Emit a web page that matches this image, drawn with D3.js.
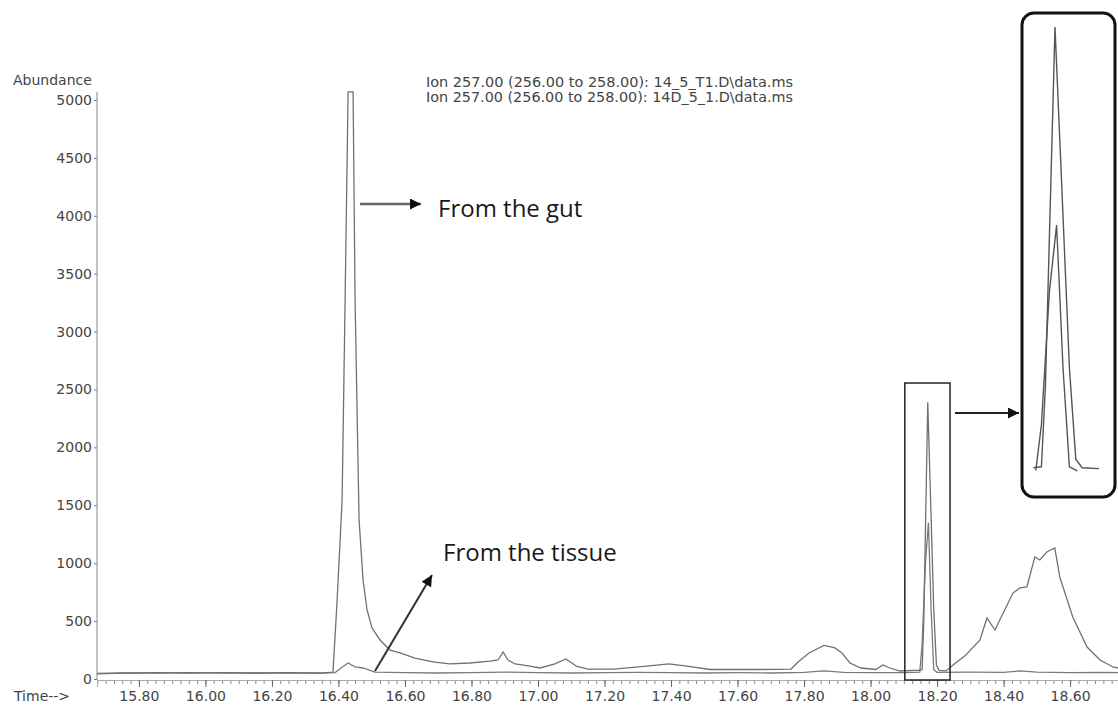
<!DOCTYPE html>
<html>
<head>
<meta charset="utf-8">
<script src="https://cdn.jsdelivr.net/npm/d3@7"></script>
<style>
  body { margin: 0; background: #fff; }
  svg { display: block; }
</style>
</head>
<body>
<div id="chart"></div>
<script>
// ion 257 chromatograms
const gutTime = [15.674, 15.75, 15.85, 15.95, 16.05, 16.15, 16.25, 16.35, 16.3836, 16.396, 16.411, 16.420, 16.429, 16.444, 16.450,
  16.462, 16.474, 16.486, 16.501, 16.525, 16.555, 16.585, 16.630, 16.684, 16.735, 16.795, 16.856, 16.88, 16.895, 16.91,
  16.931, 16.976, 17.006, 17.051, 17.084, 17.117, 17.150, 17.228, 17.328, 17.393, 17.448, 17.517, 17.670, 17.761, 17.782,
  17.815, 17.860, 17.893, 17.914, 17.938, 17.971, 18.016, 18.037, 18.058, 18.088, 18.13, 18.145, 18.155, 18.160, 18.172,
  18.180, 18.190, 18.198, 18.206, 18.227, 18.248, 18.284, 18.329, 18.350, 18.374, 18.428, 18.449, 18.470, 18.494, 18.509,
  18.530, 18.554, 18.569, 18.608, 18.651, 18.690, 18.729, 18.744];
const gutAbundance = [45, 50, 55, 52, 55, 52, 55, 50, 60, 680, 1545, 3270, 5070, 5070, 3270,
  1373, 855, 596, 440, 337, 250, 225, 181, 147, 130, 138, 155, 164, 233, 164,
  130, 112, 95, 130, 173, 108, 86, 86, 112, 130, 112, 82, 82, 86, 147,
  225, 290, 268, 225, 138, 95, 82, 121, 95, 69, 75, 75, 80, 500, 2390,
  1600, 600, 120, 75, 70, 120, 200, 337, 527, 423, 742, 786, 795, 1054, 1028,
  1097, 1131, 880, 535, 276, 164, 104, 95];

const tissueTime = [15.674, 15.75, 15.85, 15.95, 16.05, 16.15, 16.25, 16.35, 16.39, 16.41, 16.429, 16.45, 16.474, 16.51,
  16.6, 16.7, 16.8, 16.9, 17.0, 17.1, 17.2, 17.3, 17.4, 17.5, 17.6, 17.7, 17.8, 17.86, 17.92, 18.0, 18.1, 18.148,
  18.155, 18.165, 18.174, 18.182, 18.19, 18.2, 18.3, 18.4, 18.45, 18.5, 18.6, 18.7, 18.744];
const tissueAbundance = [48, 52, 50, 55, 50, 52, 50, 52, 55, 100, 138, 105, 95, 60,
  55, 52, 55, 60, 55, 52, 55, 58, 55, 52, 55, 52, 58, 70, 58, 55, 55, 60,
  300, 1000, 1350, 600, 80, 58, 60, 58, 70, 60, 55, 58, 55];

const yTicks = [0, 500, 1000, 1500, 2000, 2500, 3000, 3500, 4000, 4500, 5000];
const xTicks = [15.8, 16.0, 16.2, 16.4, 16.6, 16.8, 17.0, 17.2, 17.4, 17.6, 17.8, 18.0, 18.2, 18.4, 18.6];
const minorStep = 0.025;

const headerLines = [
  "Ion 257.00 (256.00 to 258.00): 14_5_T1.D\\data.ms",
  "Ion 257.00 (256.00 to 258.00): 14D_5_1.D\\data.ms"
];

const width = 1118, height = 707;
const margin = { top: 100, right: 0, bottom: 28, left: 97 };
const axisFont = "DejaVu Sans, Verdana, sans-serif";
const noteFont = "Open Sans, Lato, sans-serif";

const gut = gutTime.map((t, i) => ({ t: t, v: gutAbundance[i] }));
const tissue = tissueTime.map((t, i) => ({ t: t, v: tissueAbundance[i] }));

const x = d3.scaleLinear().domain([15.674, 18.744]).range([margin.left, width - margin.right]);
const y = d3.scaleLinear().domain([0, 5000]).range([height - margin.bottom, margin.top]);

const svg = d3.select("#chart").append("svg")
    .attr("width", width)
    .attr("height", height)
    .attr("viewBox", [0, 0, width, height]);

const defs = svg.append("defs");
defs.append("marker")
    .attr("id", "head")
    .attr("markerUnits", "userSpaceOnUse")
    .attr("viewBox", "0 0 10 10")
    .attr("refX", 10).attr("refY", 5)
    .attr("markerWidth", 13).attr("markerHeight", 11)
    .attr("orient", "auto")
  .append("path")
    .attr("d", "M0,0L10,5L0,10z")
    .attr("fill", "#111");

// axes
const yAxis = g => g
    .attr("transform", `translate(${margin.left},0)`)
    .call(d3.axisLeft(y).tickValues(yTicks).tickSize(3).tickPadding(2).tickFormat(d3.format("d")))
    .call(g => g.select(".domain").remove())
    .call(g => g.selectAll("text").attr("font-family", axisFont).attr("font-size", 14).attr("fill", "#444"))
    .call(g => g.selectAll("line").attr("stroke", "#777"));

svg.append("g").call(yAxis);
svg.append("line")
    .attr("x1", margin.left).attr("x2", margin.left)
    .attr("y1", y(5070)).attr("y2", y(0) + 1)
    .attr("stroke", "#888").attr("stroke-width", 1);

const axisY = y(0) + 1;
const minorTicks = d3.range(Math.ceil(15.674 / minorStep) * minorStep, 18.744, minorStep);

svg.append("g")
    .attr("transform", `translate(0,${axisY})`)
    .call(d3.axisBottom(x).tickValues(minorTicks).tickSize(4).tickFormat(""))
    .call(g => g.select(".domain").remove())
    .call(g => g.selectAll("line").attr("stroke", "#888"));

svg.append("g")
    .attr("transform", `translate(0,${axisY})`)
    .call(d3.axisBottom(x).tickValues(xTicks).tickSize(7).tickPadding(4).tickFormat(d3.format(".2f")))
    .call(g => g.select(".domain").attr("stroke", "#aaa"))
    .call(g => g.selectAll("line").attr("stroke", "#666"))
    .call(g => g.selectAll("text").attr("font-family", axisFont).attr("font-size", 14).attr("fill", "#444"));

svg.append("text")
    .attr("x", 13).attr("y", 85)
    .attr("font-family", axisFont).attr("font-size", 14).attr("fill", "#444")
    .text("Abundance");

svg.append("text")
    .attr("x", 14).attr("y", 701)
    .attr("font-family", axisFont).attr("font-size", 14).attr("fill", "#444")
    .text("Time-->");

svg.selectAll(".header")
    .data(headerLines)
    .join("text")
    .attr("class", "header")
    .attr("x", 426)
    .attr("y", (d, i) => 87 + i * 15)
    .attr("font-family", axisFont).attr("font-size", 14).attr("fill", "#444")
    .attr("textLength", 367)
    .attr("lengthAdjust", "spacingAndGlyphs")
    .text(d => d);

// traces
const line = d3.line().x(d => x(d.t)).y(d => y(d.v));

svg.append("path")
    .datum(tissue)
    .attr("d", line)
    .attr("fill", "none")
    .attr("stroke", "#7a7a7a")
    .attr("stroke-width", 1.3);

svg.append("path")
    .datum(gut)
    .attr("d", line)
    .attr("fill", "none")
    .attr("stroke", "#707070")
    .attr("stroke-width", 1.3);

// box round the 18.17 peak
svg.append("rect")
    .attr("x", x(18.103))
    .attr("y", y(2556))
    .attr("width", x(18.239) - x(18.103))
    .attr("height", axisY - y(2556))
    .attr("fill", "none")
    .attr("stroke", "#222")
    .attr("stroke-width", 1.5);

// inset, zoomed peak
const inset = { x: 1022, y: 13, w: 93, h: 484 };
const xi = d3.scaleLinear().domain([18.13, 18.23]).range([1021.4, 1101.4]);
const yi = d3.scaleLinear().domain([0, 2390]).range([482, 27]);

defs.append("clipPath").attr("id", "insetClip")
  .append("rect")
    .attr("x", inset.x).attr("y", inset.y)
    .attr("width", inset.w).attr("height", inset.h)
    .attr("rx", 12);

const lineInset = d3.line().x(d => xi(d.t)).y(d => yi(d.v));
const gIn = svg.append("g").attr("clip-path", "url(#insetClip)");

gIn.append("path")
    .datum(tissue.filter(d => d.t >= 18.14 && d.t <= 18.2))
    .attr("d", lineInset)
    .attr("fill", "none")
    .attr("stroke", "#555")
    .attr("stroke-width", 1.4);

gIn.append("path")
    .datum(gut.filter(d => d.t >= 18.14 && d.t <= 18.228))
    .attr("d", lineInset)
    .attr("fill", "none")
    .attr("stroke", "#555")
    .attr("stroke-width", 1.4);

svg.append("rect")
    .attr("x", inset.x).attr("y", inset.y)
    .attr("width", inset.w).attr("height", inset.h)
    .attr("rx", 12)
    .attr("fill", "none")
    .attr("stroke", "#111")
    .attr("stroke-width", 3);

// arrows and notes
svg.append("line")
    .attr("x1", 360).attr("y1", 204).attr("x2", 421).attr("y2", 204)
    .attr("stroke", "#666").attr("stroke-width", 2.5)
    .attr("marker-end", "url(#head)");

svg.append("line")
    .attr("x1", 375).attr("y1", 671).attr("x2", 432).attr("y2", 575)
    .attr("stroke", "#333").attr("stroke-width", 2)
    .attr("marker-end", "url(#head)");

svg.append("line")
    .attr("x1", 955).attr("y1", 413).attr("x2", 1019).attr("y2", 413)
    .attr("stroke", "#222").attr("stroke-width", 2)
    .attr("marker-end", "url(#head)");

svg.append("text")
    .attr("x", 438).attr("y", 217)
    .attr("font-family", noteFont).attr("font-size", 24).attr("fill", "#1a1a1a")
    .text("From the gut");

svg.append("text")
    .attr("x", 443).attr("y", 561)
    .attr("font-family", noteFont).attr("font-size", 24).attr("fill", "#1a1a1a")
    .text("From the tissue");
</script>
</body>
</html>
